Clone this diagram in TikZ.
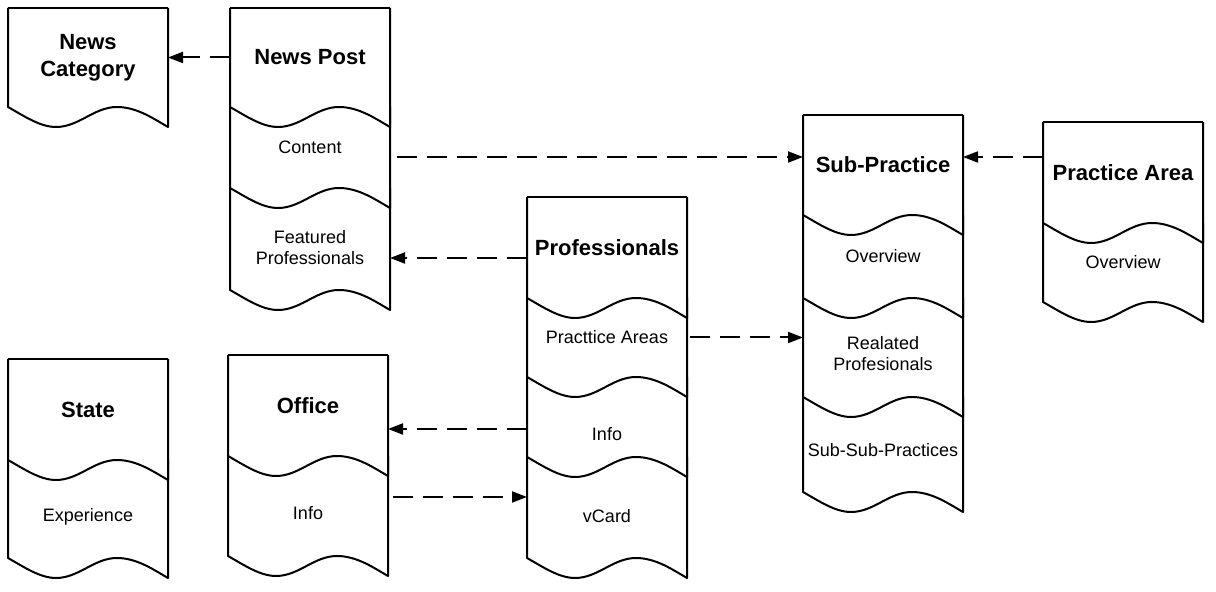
\documentclass[tikz,border=0pt]{standalone}
\usepackage{fontspec}
\setmainfont{Liberation Sans}
\usepackage{tikz}
\usetikzlibrary{arrows.meta,positioning}

\begin{document}
\begin{tikzpicture}[
        x=0.5pt, y=-0.5pt,
        part/.style={minimum width=80pt, inner sep=2pt, outer sep=0pt, align=center, font=\fontsize{9}{10.5}\selectfont},
        head/.style={part, font=\bfseries\fontsize{11}{13.5}\selectfont},
        low/.style={text height=#1},
        outline/.style={line width=1pt, line join=round},
        arrow/.style={-{Triangle[length=7.5pt,width=5.5pt]}, line width=1pt, dash pattern=on 10pt off 5pt}
    ]
    \useasboundingbox (0,0) rectangle (1216,592);

    \node[head, anchor=north west, minimum height=49.5pt] (ncat) at (8,8) {News\\Category};

    \node[head, anchor=north west, minimum height=49.5pt] (npost) at (230,8) {News Post};
    \node[part, below=0pt of npost, minimum height=40.5pt] (ncontent) {Content};
    \node[part, below=0pt of ncontent, minimum height=51pt, low=25.1pt] (nfeat) {Featured\\Professionals};

    \node[head, anchor=north west, minimum height=50pt] (nsub) at (803,115) {Sub-Practice};
    \node[part, below=0pt of nsub, minimum height=41.5pt] (nsubover) {Overview};
    \node[part, below=0pt of nsubover, minimum height=49.5pt, low=23.1pt] (nsubrel) {Realated\\Profesionals};
    \node[part, below=0pt of nsubrel, minimum height=47.5pt, low=12.1pt] (nsubsub) {Sub-Sub-Practices};

    \node[head, anchor=north west, minimum height=50.5pt] (narea) at (1043,122) {Practice Area};
    \node[part, below=0pt of narea, minimum height=39.5pt] (nareaover) {Overview};

    \node[head, anchor=north west, minimum height=50.5pt] (nprof) at (527,197) {Professionals};
    \node[part, below=0pt of nprof, minimum height=39.5pt] (npractice) {Practtice Areas};
    \node[part, below=0pt of npractice, minimum height=40pt, low=23.6pt] (ninfo) {Info};
    \node[part, below=0pt of ninfo, minimum height=50.5pt, low=15.1pt] (nvcard) {vCard};

    \node[head, anchor=north west, minimum height=50.5pt] (nstate) at (8,359) {State};
    \node[part, below=0pt of nstate, minimum height=49pt, low=14.6pt] (nexp) {Experience};

    \node[head, anchor=north west, minimum height=50.5pt] (noffice) at (228,355) {Office};
    \node[part, below=0pt of noffice, minimum height=50pt, low=13.6pt] (noffinfo) {Info};

    % document outlines
    \foreach \n in {ncat,npost,nsub,narea,nprof,nstate,noffice}
        \draw[outline] (\n.north west) -- (\n.north east);
    \foreach \n in {ncat,npost,ncontent,nfeat,nsub,nsubover,nsubrel,nsubsub,narea,nareaover,
                    nprof,npractice,ninfo,nvcard,nstate,nexp,noffice,noffinfo}
        \draw[outline] (\n.north west) -- (\n.south west)
            .. controls +(8pt,-4.5pt) and +(-8pt,0pt) .. ([shift={(24pt,-10pt)}]\n.south west)
            .. controls +(11.5pt,0pt) and +(-11.5pt,0pt) .. ([shift={(54.5pt,0pt)}]\n.south west)
            .. controls +(10pt,0pt) and +(-7pt,4pt) .. ([yshift=-10pt]\n.south east)
            -- (\n.north east);

    \draw[arrow] (npost) -- (ncat);
    \draw[arrow, shorten <=3.5pt] ([yshift=-4.75pt]ncontent.east) -- ([yshift=-4.75pt]ncontent.east -| nsub.west);
    \draw[arrow] ([yshift=7.75pt]narea.west) -- ([yshift=7.75pt]narea.west -| nsub.east);
    \draw[arrow] ([yshift=-5.25pt]nprof.west) -- ([yshift=-5.25pt]nprof.west -| nfeat.east);
    \draw[arrow, shorten <=1.5pt] (npractice.east) -- (npractice.east -| nsubrel.west);
    \draw[arrow] ([yshift=-6pt]ninfo.west) -- ([yshift=-6pt]ninfo.west -| noffice.east);
    \draw[arrow, shorten <=2.5pt] ([yshift=4.5pt]noffinfo.east) -- ([yshift=4.5pt]noffinfo.east -| nvcard.west);

\end{tikzpicture}
\end{document}
